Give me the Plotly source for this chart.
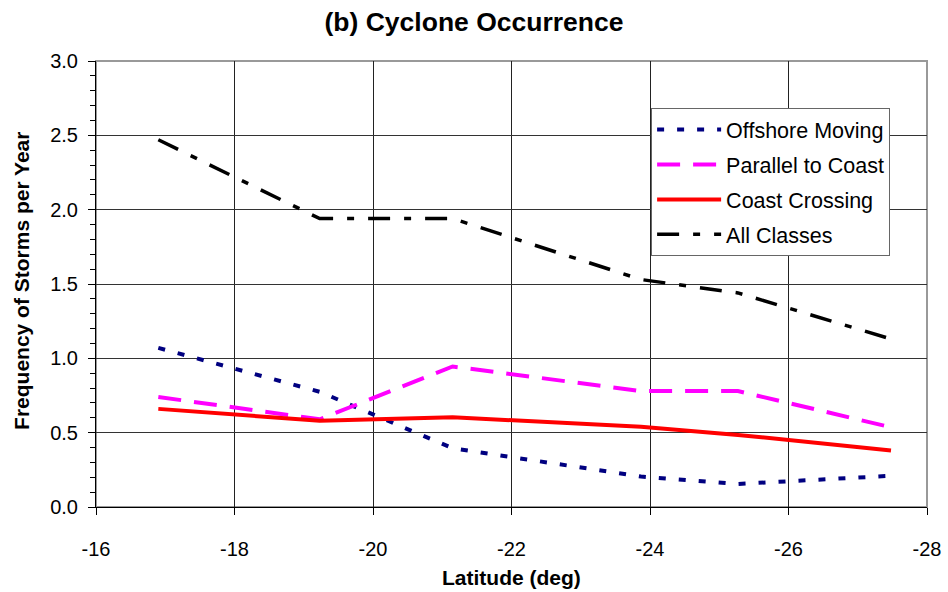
import plotly.graph_objects as go

latitude = [-16.9, -19.23, -21.15, -23.87, -25.27, -27.48]
offshore_moving = [1.07, 0.775, 0.395, 0.205, 0.155, 0.21]
parallel_to_coast = [0.74, 0.59, 0.945, 0.78, 0.78, 0.536]
coast_crossing = [0.66, 0.58, 0.603, 0.54, 0.485, 0.38]
all_classes = [2.47, 1.94, 1.94, 1.53, 1.44, 1.13]

x_ticks = [-16, -18, -20, -22, -24, -26, -28]
y_ticks = [0.0, 0.5, 1.0, 1.5, 2.0, 2.5, 3.0]

FONT = "Liberation Sans, Arial, sans-serif"

fig = go.Figure()
series = [
    ("Offshore Moving", offshore_moving, "#000080", "7px,13px", 4),
    ("Parallel to Coast", parallel_to_coast, "#FF00FF", "23px,13px", 4),
    ("Coast Crossing", coast_crossing, "#FF0000", "solid", 4),
    ("All Classes", all_classes, "#000000", "22px,14px,7px,14px", 3.5),
]
for i, (name, vals, color, dash, w) in enumerate(series):
    fig.add_trace(go.Scatter(
        x=latitude, y=vals, mode="lines", name=name,
        line=dict(color=color, dash=dash, width=w),
        legendgroup=f"g{i}",
    ))

fig.add_shape(type="rect", xref="paper", yref="paper", x0=0, y0=0, x1=1, y1=1,
              line=dict(color="#999999", width=2), layer="below")

fig.add_annotation(text="<b>Latitude (deg)</b>", xref="paper", yref="paper",
                   x=0.5, y=-0.159, xanchor="center", yanchor="middle",
                   showarrow=False, font=dict(size=21, family=FONT, color="black"))
fig.add_annotation(text="<b>Frequency of Storms per Year</b>", xref="paper", yref="paper",
                   x=-0.089, y=0.507, xanchor="center", yanchor="middle", textangle=-90,
                   showarrow=False, font=dict(size=21, family=FONT, color="black"))

fig.update_layout(
    width=948, height=592,
    margin=dict(l=96, r=21, t=61, b=85),
    paper_bgcolor="white", plot_bgcolor="white",
    font=dict(family=FONT, size=20, color="black"),
    title=dict(text="<b>(b) Cyclone Occurrence</b>", x=0.5, xref="container",
               y=0.963, yanchor="middle", font=dict(size=26.5, family=FONT)),
    showlegend=True,
    legend=dict(x=0.668, y=0.8946, xanchor="left", yanchor="top",
                bordercolor="#666666", borderwidth=1, bgcolor="white",
                font=dict(size=21.5, family=FONT), tracegroupgap=4,
                itemwidth=64),
    xaxis=dict(
        range=[-16, -28], tickvals=x_ticks, ticktext=[str(v) for v in x_ticks],
        showgrid=True, gridcolor="#222222", gridwidth=1,
        showline=True, linecolor="black", linewidth=1,
        ticks="outside", ticklen=7, tickcolor="black",
        zeroline=False, automargin=False, ticklabelstandoff=17,
        tickfont=dict(size=20),
    ),
    yaxis=dict(
        range=[0, 3.0], tickvals=y_ticks, ticktext=[f"{v:.1f}" for v in y_ticks],
        showgrid=True, gridcolor="#333333", gridwidth=1,
        showline=True, linecolor="black", linewidth=1,
        ticks="outside", ticklen=7, tickcolor="black",
        minor=dict(dtick=0.1, ticks="outside", ticklen=5, tickcolor="black", showgrid=False),
        zeroline=False, automargin=False, ticklabelstandoff=6,
        tickfont=dict(size=20),
    ),
)

fig.write_html("out.html")
